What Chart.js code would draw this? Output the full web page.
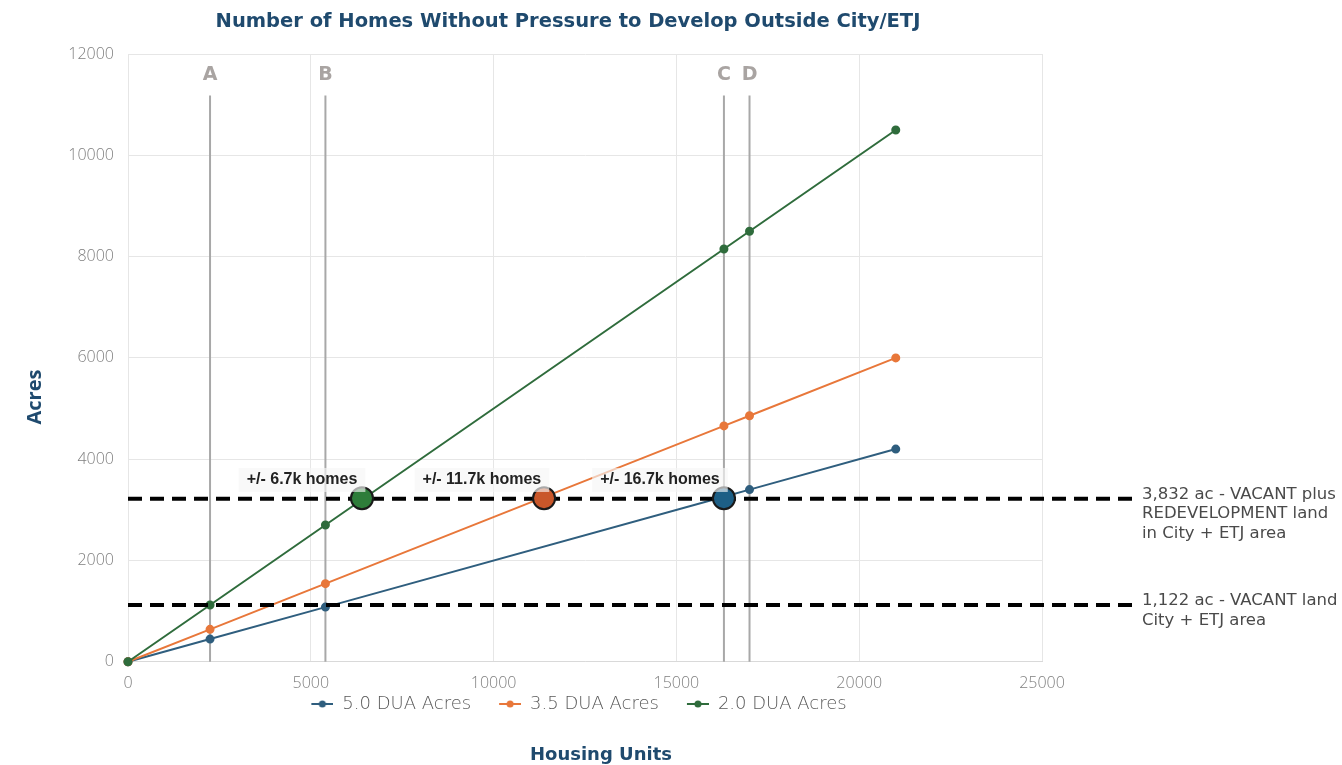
<!DOCTYPE html>
<html>
<head>
<meta charset="utf-8">
<script src="https://cdn.jsdelivr.net/npm/chart.js@4/dist/chart.umd.min.js"></script>
<style>
  html, body { margin: 0; padding: 0; background: #ffffff; }
  #wrap { width: 1342px; height: 765px; position: relative; }
</style>
</head>
<body>
<div id="wrap"><canvas id="c" width="1342" height="765"></canvas></div>
<script>
// ---- data ----
const housingUnits = [0, 2244, 5400, 16300, 17000, 21000];
const acres50 = [0, 449, 1080, 3260, 3400, 4200];
const acres35 = [0, 641, 1543, 4657, 4857, 6000];
const acres20 = [0, 1122, 2700, 8150, 8500, 10500];
const seriesNames = ['5.0 DUA Acres', '3.5 DUA Acres', '2.0 DUA Acres'];

const markerLetters = ['A', 'B', 'C', 'D'];
const markerUnits = [2244, 5400, 16300, 17000];

const crossUnits = [6400, 11380, 16300];
const crossAcres = [3230, 3230, 3230];
const crossLabels = ['+/- 6.7k homes', '+/- 11.7k homes', '+/- 16.7k homes'];
const crossLabelUnits = [4760, 9680, 14550];
const crossLabelAcres = [3590, 3590, 3590];

const landLevels = [3220, 1122];
const landNotes = [
  ['3,832 ac - VACANT plus', 'REDEVELOPMENT land', 'in City + ETJ area'],
  ['1,122 ac - VACANT land in', 'City + ETJ area']
];

const chartTitle = 'Number of Homes Without Pressure to Develop Outside City/ETJ';
const xTitle = 'Housing Units';
const yTitle = 'Acres';
const xTicksMax = 25000;
const yTicksMax = 12000;

// ---- styling ----
const colors = ['#2F5E7E', '#E8773A', '#2F6C3C'];
const crossColors = ['#2E7D3A', '#C9572A', '#1D5F86'];
const navy = '#1F4A6E';
const FONT = "'Open Sans', 'DejaVu Sans', sans-serif";
const WIDE = "'DejaVu Sans', 'Open Sans', sans-serif";
const LABELFONT = "'Liberation Sans', Arial, sans-serif";

function makeIcon(color) {
  const cv = document.createElement('canvas');
  cv.width = 44; cv.height = 10;
  const g = cv.getContext('2d');
  g.strokeStyle = color; g.lineWidth = 2;
  g.beginPath(); g.moveTo(22, 5); g.lineTo(44, 5); g.stroke();
  g.fillStyle = color;
  g.beginPath(); g.arc(33, 5, 3.5, 0, Math.PI * 2); g.fill();
  return cv;
}
const icons = colors.map(makeIcon);

function pts(xs, ys) { return xs.map((x, i) => ({ x: x, y: ys[i] })); }

const overlayPlugin = {
  id: 'overlay',
  beforeDatasetsDraw(chart) {
    const { ctx, chartArea, scales: { x, y } } = chart;
    ctx.save();
    markerUnits.forEach((u, i) => {
      const px = x.getPixelForValue(u);
      ctx.strokeStyle = '#A8A8A8';
      ctx.lineWidth = 2;
      ctx.beginPath();
      ctx.moveTo(px, y.getPixelForValue(11180));
      ctx.lineTo(px, chartArea.bottom);
      ctx.stroke();
      ctx.font = "bold 19px " + WIDE;
      ctx.fillStyle = '#A9A4A2';
      ctx.textAlign = 'center';
      ctx.textBaseline = 'middle';
      ctx.fillText(markerLetters[i], px, y.getPixelForValue(11580));
    });
    ctx.restore();
  },
  beforeDatasetDraw(chart, args) {
    if (args.index !== 3) return;
    const { ctx, chartArea, scales: { y } } = chart;
    ctx.save();
    ctx.strokeStyle = '#000000';
    ctx.lineWidth = 4;
    ctx.setLineDash([14, 8]);
    landLevels.forEach(v => {
      const py = y.getPixelForValue(v);
      ctx.beginPath();
      ctx.moveTo(chartArea.left, py);
      ctx.lineTo(1132, py);
      ctx.stroke();
    });
    ctx.restore();
  },
  afterDatasetsDraw(chart) {
    const { ctx, scales: { x, y } } = chart;
    ctx.save();
    ctx.font = "bold 16px " + LABELFONT;
    ctx.textAlign = 'center';
    ctx.textBaseline = 'middle';
    crossLabels.forEach((t, i) => {
      const px = x.getPixelForValue(crossLabelUnits[i]);
      const py = y.getPixelForValue(crossLabelAcres[i]);
      const w = ctx.measureText(t).width + 16;
      ctx.fillStyle = 'rgba(246,246,246,0.65)';
      ctx.fillRect(px - w / 2, py - 12, w, 24);
      ctx.fillStyle = '#222222';
      ctx.fillText(t, px, py);
    });
    ctx.font = "16.5px " + WIDE;
    ctx.fillStyle = '#4A4A4A';
    ctx.textAlign = 'left';
    landLevels.forEach((v, i) => {
      const py = y.getPixelForValue(v) - 4;
      landNotes[i].forEach((line, j) => {
        ctx.fillText(line, 1142, py + j * 19.5);
      });
    });
    ctx.restore();
  },
  afterDraw(chart) {
    const { ctx } = chart;
    ctx.save();
    ctx.fillStyle = navy;
    ctx.textAlign = 'center';
    ctx.textBaseline = 'middle';
    ctx.font = "bold 18px " + WIDE;
    ctx.fillText(xTitle, 601, 755);
    ctx.translate(35, 397);
    ctx.rotate(-Math.PI / 2);
    ctx.font = "bold 20px " + FONT;
    ctx.fillText(yTitle, 0, 0);
    ctx.restore();
  }
};

new Chart(document.getElementById('c'), {
  type: 'scatter',
  data: {
    datasets: [
      { label: seriesNames[0], data: pts(housingUnits, acres50), showLine: true, borderColor: colors[0], backgroundColor: colors[0], borderWidth: 2, pointRadius: 3.5, pointHoverRadius: 3.5, order: 3 },
      { label: seriesNames[1], data: pts(housingUnits, acres35), showLine: true, borderColor: colors[1], backgroundColor: colors[1], borderWidth: 2, pointRadius: 3.5, pointHoverRadius: 3.5, order: 2 },
      { label: seriesNames[2], data: pts(housingUnits, acres20), showLine: true, borderColor: colors[2], backgroundColor: colors[2], borderWidth: 2, pointRadius: 3.5, pointHoverRadius: 3.5, order: 1 },
      { label: 'crossings', data: pts(crossUnits, crossAcres), showLine: false, backgroundColor: crossColors, borderColor: '#1A1A1A', pointBorderWidth: 2, pointRadius: 11, pointHoverRadius: 11, order: 0 }
    ]
  },
  options: {
    responsive: false,
    animation: false,
    clip: false,
    layout: { padding: { left: 0, right: 206, top: 0, bottom: 42 } },
    scales: {
      x: {
        type: 'linear', min: 0, max: xTicksMax,
        ticks: { stepSize: 5000, color: '#7F7F7F', font: { family: FONT, size: 16, weight: '300' }, padding: 12, callback: v => String(v) },
        grid: { color: '#E6E6E6', drawTicks: false },
        border: { color: '#D9D9D9' },
        afterFit: s => { s.height = s.height - 16; }
      },
      y: {
        min: 0, max: yTicksMax,
        ticks: { stepSize: 2000, color: '#7F7F7F', font: { family: FONT, size: 16, weight: '300' }, padding: 14, callback: v => String(v) },
        grid: { color: '#E6E6E6', drawTicks: false },
        border: { color: '#E6E6E6' },
        afterFit: s => { s.width = 128; }
      },
      yRightSpace: {
        position: 'right', min: 0, max: yTicksMax,
        ticks: { display: false },
        grid: { display: false, drawOnChartArea: false, drawTicks: false },
        border: { display: false },
        afterFit: s => { s.width = 94; }
      }
    },
    plugins: {
      title: { display: true, text: chartTitle, color: navy, font: { family: WIDE, size: 19.5, weight: 'bold' }, padding: { top: 10, bottom: 20.6 } },
      legend: {
        position: 'bottom',
        labels: {
          usePointStyle: true, pointStyleWidth: 44, padding: 6,
          color: '#595959', font: { family: WIDE, size: 18, weight: '200' },
          sort: (a, b) => a.datasetIndex - b.datasetIndex,
          filter: item => item.datasetIndex < 3,
          generateLabels(chart) {
            const items = Chart.defaults.plugins.legend.labels.generateLabels(chart);
            items.forEach(it => { if (it.datasetIndex < 3) it.pointStyle = icons[it.datasetIndex]; });
            return items;
          }
        }
      },
      tooltip: { enabled: false }
    }
  },
  plugins: [overlayPlugin]
});
</script>
</body>
</html>
